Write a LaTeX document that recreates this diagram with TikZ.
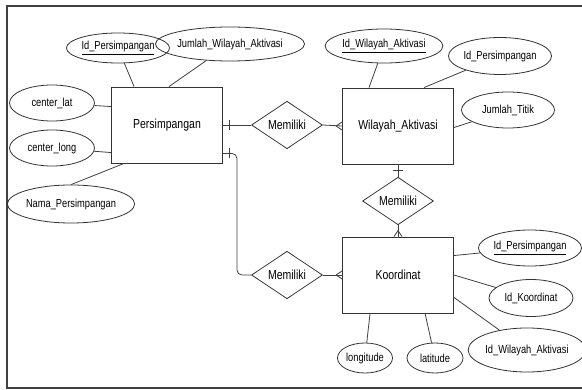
\documentclass[tikz,border=0pt]{standalone}
\usepackage{fontspec}
\setmainfont{Liberation Sans}
\usepackage{graphicx}
\usetikzlibrary{shapes.geometric,calc}
\newcommand{\vst}[1]{\scalebox{1}[1.25]{#1}}
\tikzset{
  ent/.style={draw=black!80, line width=0.9pt, minimum width=111pt, minimum height=76pt, inner sep=0pt, font=\fontsize{10.5}{12}\selectfont},
  attr/.style={ellipse, draw=black!80, line width=0.8pt, inner sep=0pt, font=\fontsize{9.3}{11}\selectfont},
  rel/.style={diamond, draw=black!80, line width=0.8pt, minimum width=71pt, minimum height=44pt, inner sep=0pt, font=\fontsize{10.5}{12}\selectfont},
  conn/.style={draw=black!75, line width=0.8pt},
  frame/.style={draw=black!75, line width=1.4pt}
}
\begin{document}
\begin{tikzpicture}[x=1pt,y=-1pt]
\useasboundingbox (0,0) rectangle (582,390);
\draw[frame] (595,6) -- (7,6) -- (7,388) -- (595,388);

% entities
\node[ent] (P) at (167,125) {\vst{Persimpangan}};
\node[ent] (W) at (398,126) {\vst{Wilayah\_Aktivasi}};
\node[ent] (K) at (398,275) {\vst{Koordinat}};

% relationships
\node[rel] (R1) at (287,125) {\vst{Memiliki}};
\node[rel] (R2) at (398,201) {\vst{Memiliki}};
\node[rel] (R3) at (287,275) {\vst{Memiliki}};

% attributes of Persimpangan
\node[attr, minimum width=83pt, minimum height=30pt] (a1) at (118,48) {\vst{\underline{Id\_Persimpangan}}};
\node[attr, minimum width=113pt, minimum height=34pt] (a2) at (230,44) {\vst{Jumlah\_Wilayah\_Aktivasi}};
\node[attr, minimum width=85pt, minimum height=36pt] (a3) at (52,103) {\vst{center\_lat}};
\node[attr, minimum width=85pt, minimum height=36pt] (a4) at (52,148) {\vst{center\_long}};
\node[attr, minimum width=103pt, minimum height=38pt] (a5) at (71,204) {\vst{Nama\_Persimpangan}};

% attributes of Wilayah_Aktivasi
\node[attr, minimum width=102pt, minimum height=34pt] (b1) at (384,46) {\vst{\underline{Id\_Wilayah\_Aktivasi}}};
\node[attr, minimum width=94pt, minimum height=37pt] (b2) at (500,56) {\vst{Id\_Persimpangan}};
\node[attr, minimum width=93pt, minimum height=36pt] (b3) at (508,110) {\vst{Jumlah\_Titik}};

% attributes of Koordinat
\node[attr, minimum width=85pt, minimum height=36pt] (c1) at (530,248) {\vst{\underline{Id\_Persimpangan}}};
\node[attr, minimum width=84pt, minimum height=37pt] (c2) at (531,298) {\vst{Id\_Koordinat}};
\node[attr, minimum width=101pt, minimum height=44pt] (c3) at (527,350) {\vst{Id\_Wilayah\_Aktivasi}};
\node[attr, minimum width=55pt, minimum height=30pt] (c4) at (365,358) {\vst{longitude}};
\node[attr, minimum width=56pt, minimum height=30pt] (c5) at (435,358) {\vst{latitude}};

% attribute links
\draw[conn] (a1) -- ($(P.north west)+(23,0)$);
\draw[conn] (a2) -- ($(P.north west)+(58,0)$);
\draw[conn] (a3) -- ($(P.north west)+(0,20)$);
\draw[conn] (a4) -- ($(P.north west)+(0,66)$);
\draw[conn] (a5.north) -- ($(P.south west)+(13,0)$);
\draw[conn] (b1) -- ($(W.north west)+(27,0)$);
\draw[conn] (b2) -- ($(W.north west)+(82,0)$);
\draw[conn] (b3) -- ($(W.north east)+(0,40)$);
\draw[conn] (c1) -- ($(K.north east)+(0,19)$);
\draw[conn] (c2) -- (K.east);
\draw[conn] (c3) -- ($(K.south east)+(0,-16)$);
\draw[conn] (c4) -- ($(K.south west)+(28,0)$);
\draw[conn] (c5) -- ($(K.south west)+(83,0)$);

% relationship links
\draw[conn] (P.east) -- (R1.west);
\draw[conn] ($(P.east)+(6,-5)$) -- ++(0,10);
\draw[conn] (R1.east) -- (W.west);
\draw[conn] ($(W.west)+(-6,0)$) -- ($(W.west)+(0,-4)$);
\draw[conn] ($(W.west)+(-6,0)$) -- ($(W.west)+(0,4)$);

\draw[conn] (W.south) -- (R2.north);
\draw[conn] ($(W.south)+(-5,6)$) -- ++(10,0);
\draw[conn] (R2.south) -- (K.north);
\draw[conn] ($(K.north)+(0,-6)$) -- ($(K.north)+(-4,0)$);
\draw[conn] ($(K.north)+(0,-6)$) -- ($(K.north)+(4,0)$);

\draw[conn, rounded corners=5pt] ($(P.south east)+(0,-10)$) -- ++(14,0) |- (R3.west);
\draw[conn] ($(P.south east)+(6,-15)$) -- ++(0,10);
\draw[conn] (R3.east) -- (K.west);
\draw[conn] ($(K.west)+(-6,0)$) -- ($(K.west)+(0,-4)$);
\draw[conn] ($(K.west)+(-6,0)$) -- ($(K.west)+(0,4)$);
\end{tikzpicture}
\end{document}
